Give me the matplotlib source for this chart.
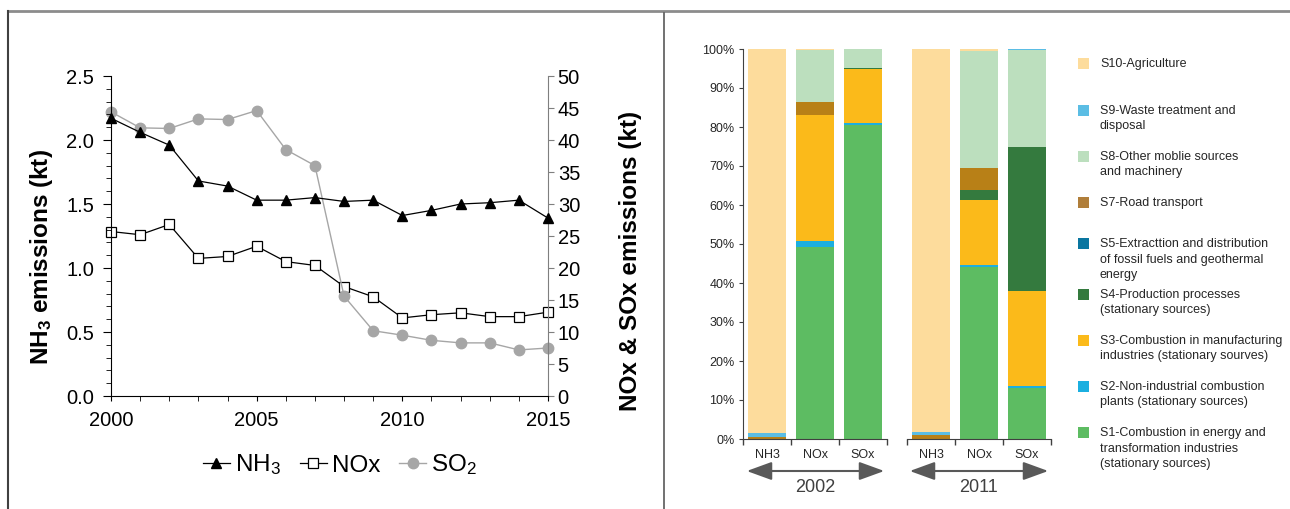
import matplotlib
matplotlib.use('Agg')
import matplotlib.pyplot as plt
from matplotlib.lines import Line2D
from matplotlib.patches import Rectangle, FancyArrowPatch
import numpy as np

plt.rcParams['font.family'] = ['Liberation Sans', 'DejaVu Sans']
plt.rcParams['mathtext.fontset'] = 'custom'
plt.rcParams['mathtext.rm'] = 'Liberation Sans'
plt.rcParams['mathtext.it'] = 'Liberation Sans:italic'
plt.rcParams['mathtext.bf'] = 'Liberation Sans:bold'

# ---------------- data: left line chart ----------------
years = list(range(2000, 2016))
nh3 = [2.17, 2.06, 1.96, 1.68, 1.64, 1.53, 1.53, 1.55, 1.52, 1.53,
       1.41, 1.45, 1.50, 1.51, 1.53, 1.39]
nox = [25.7, 25.2, 26.8, 21.5, 21.8, 23.4, 21.0, 20.4, 17.1, 15.5,
       12.2, 12.7, 13.0, 12.4, 12.4, 13.1]
so2 = [44.4, 41.9, 41.8, 43.3, 43.2, 44.6, 38.5, 36.0, 15.6, 10.2,
       9.5, 8.7, 8.3, 8.3, 7.2, 7.5]

# ---------------- data: right stacked bar chart ----------------
groups = ['2002', '2011']
pollutants = ['NH3', 'NOx', 'SOx']
# order of bars: 2002 NH3, NOx, SOx, 2011 NH3, NOx, SOx
s1 = [0.0, 49.3, 80.6, 0.0, 44.1, 13.2]
s2 = [0.0, 1.5, 0.4, 0.0, 0.4, 0.3]
s3 = [0.0, 32.3, 13.9, 0.0, 16.7, 24.5]
s4 = [0.0, 0.0, 0.3, 0.0, 2.6, 36.8]
s5 = [0.0, 0.0, 0.0, 0.0, 0.0, 0.0]
s7 = [0.4, 3.3, 0.0, 0.9, 5.6, 0.0]
s8 = [0.0, 13.3, 4.8, 0.0, 30.2, 24.9]
s9 = [1.2, 0.0, 0.0, 1.0, 0.0, 0.3]
s10 = [98.4, 0.3, 0.0, 98.1, 0.5, 0.0]
sector_values = [s1, s2, s3, s4, s5, s7, s8, s9, s10]
sector_colors = ['#5DBC62', '#1BAFE0', '#FBBA1A', '#347A3E', '#0A76A0',
                 '#B88017', '#BCDFBE', '#5BBDE4', '#FDDC9C']
legend_labels = [
    'S10-Agriculture',
    'S9-Waste treatment and\ndisposal',
    'S8-Other moblie sources\nand machinery',
    'S7-Road transport',
    'S5-Extracttion and distribution\nof fossil fuels and geothermal\nenergy',
    'S4-Production processes\n(stationary sources)',
    'S3-Combustion in manufacturing\nindustries (stationary sourves)',
    'S2-Non-industrial combustion\nplants (stationary sources)',
    'S1-Combustion in energy and\ntransformation industries\n(stationary sources)',
]
legend_colors = ['#FDDC9C', '#5BBDE4', '#BCDFBE', '#B07E3A', '#0A76A0',
                 '#347A3E', '#FBBA1A', '#1BAFE0', '#5DBC62']

W, H = 1290, 509
fig = plt.figure(figsize=(W / 100, H / 100), dpi=100)


def fx(px):
    return px / W


def fy(py):
    return 1 - py / H


# ---------------- frame lines ----------------
fig.add_artist(Line2D([fx(8), 1], [fy(11), fy(11)], color='#8C8C8C', lw=2))
fig.add_artist(Line2D([fx(8), fx(8)], [fy(11), 0], color='#404040', lw=1.5))
fig.add_artist(Line2D([fx(664), fx(664)], [fy(13), 0], color='#595959', lw=1.2))

# ---------------- left chart ----------------
ax = fig.add_axes([fx(111), fy(396), fx(548) - fx(111), fy(76) - fy(396)])
ax2 = ax.twinx()
ax.set_zorder(ax2.get_zorder() + 1)
ax.patch.set_visible(False)

l_nox, = ax2.plot(years, nox, color='black', lw=0.9, marker='s', ms=6.5,
                  mfc='white', mec='black', mew=0.9, clip_on=False, label='NOx')
l_so2, = ax2.plot(years, so2, color='#A6A6A6', lw=1.0, marker='o', ms=7.5,
                  mfc='#A6A6A6', mec='#A6A6A6', clip_on=False, label='SO$_2$')
l_nh3, = ax.plot(years, nh3, color='black', lw=0.9, marker='^', ms=7.5,
                 clip_on=False, label='NH$_3$')

ax.set_xlim(2000, 2015)
ax.set_ylim(0, 2.5)
ax2.set_ylim(0, 50)
ax.set_xticks([2000, 2005, 2010, 2015])
ax.set_xticks(years, minor=True)
ax.set_yticks(np.arange(0, 2.51, 0.5))
ax.set_yticks(np.arange(0, 2.51, 0.1), minor=True)
ax.yaxis.set_major_formatter('{x:.1f}')
ax2.set_yticks(range(0, 51, 5))

for s in ['top', 'right']:
    ax.spines[s].set_visible(False)
for s in ['top', 'left', 'bottom']:
    ax2.spines[s].set_visible(False)
ax.spines['left'].set_color('black')
ax.spines['bottom'].set_color('black')
ax2.spines['right'].set_color('#7F7F7F')

ax.tick_params(axis='x', which='both', direction='out', length=3.5,
               labelsize=14.5, pad=7)
ax.tick_params(axis='y', which='major', direction='out', length=6,
               labelsize=14.5, pad=6)
ax.tick_params(axis='y', which='minor', direction='out', length=3.5)
ax2.tick_params(axis='y', which='major', direction='out', length=4,
                labelsize=14.5, pad=3, color='#7F7F7F')

fig.text(fx(42), fy(257), r'NH$_\mathbf{3}$ emissions (kt)', rotation=90,
         ha='center', va='center', fontsize=17.5, fontweight='bold')
fig.text(fx(630), fy(261), 'NOx & SOx emissions (kt)', rotation=90,
         ha='center', va='center', fontsize=17.5, fontweight='bold')

fig.legend(handles=[l_nh3, l_nox, l_so2], loc='center', ncol=3,
           bbox_to_anchor=(fx(340), fy(465)), bbox_transform=fig.transFigure,
           frameon=False, fontsize=17.5, handlelength=1.1, handletextpad=0.2,
           columnspacing=0.8)

# ---------------- right chart ----------------
bar_axes = [
    fig.add_axes([fx(743), fy(439), fx(887) - fx(743), fy(49) - fy(439)]),
    fig.add_axes([fx(907), fy(439), fx(1051) - fx(907), fy(49) - fy(439)]),
]
for gi, axb in enumerate(bar_axes):
    xs = np.arange(len(pollutants))
    bottom = np.zeros(len(pollutants))
    for vals, col in zip(sector_values, sector_colors):
        v = np.array(vals[gi * 3:(gi + 1) * 3])
        axb.bar(xs, v, width=0.8, bottom=bottom, color=col, linewidth=0)
        bottom += v
    axb.set_xlim(-0.5, 2.5)
    axb.set_ylim(0, 100)
    axb.set_xticks([-0.5, 0.5, 1.5, 2.5])
    axb.set_xticklabels([])
    axb.set_xticks(xs, minor=True)
    axb.set_xticklabels(pollutants, minor=True)
    axb.tick_params(axis='x', which='major', direction='out', length=4,
                    color='#404040', width=1)
    axb.tick_params(axis='x', which='minor', length=0, pad=7, labelsize=9,
                    labelcolor='#262626')
    for s in ['top', 'right']:
        axb.spines[s].set_visible(False)
    axb.spines['bottom'].set_color('#404040')
    if gi == 0:
        axb.set_yticks(range(0, 101, 10))
        axb.set_yticklabels([f'{v}%' for v in range(0, 101, 10)])
        axb.tick_params(axis='y', direction='out', length=3, pad=3,
                        labelsize=9, labelcolor='#262626', color='#404040')
        axb.spines['left'].set_color('#404040')
    else:
        axb.spines['left'].set_visible(False)
        axb.set_yticks([])

# arrows and year labels
for (x0, x1), g in zip([(744, 887), (907, 1051)], groups):
    arr = FancyArrowPatch((fx(x0), fy(471)), (fx(x1), fy(471)),
                          arrowstyle='<|-|>,head_length=1.1,head_width=0.4',
                          mutation_scale=14, color='#595959', lw=1.5,
                          transform=fig.transFigure)
    fig.add_artist(arr)
    fig.text(fx((x0 + x1) / 2), fy(487), g, ha='center', va='center',
             fontsize=13, color='#404040')

# legend on the right
first_line_y = [64, 111, 157, 203, 244, 295, 341, 387, 433]
for lab, col, y0 in zip(legend_labels, legend_colors, first_line_y):
    fig.add_artist(Rectangle((fx(1078), fy(y0 + 5)), 11 / W, 11 / H,
                             transform=fig.transFigure, color=col, lw=0))
    for k, line in enumerate(lab.split('\n')):
        fig.text(fx(1100), fy(y0 + k * 15.5), line, ha='left', va='center',
                 fontsize=9, color='#262626')

fig.savefig('out.png', dpi=100)
